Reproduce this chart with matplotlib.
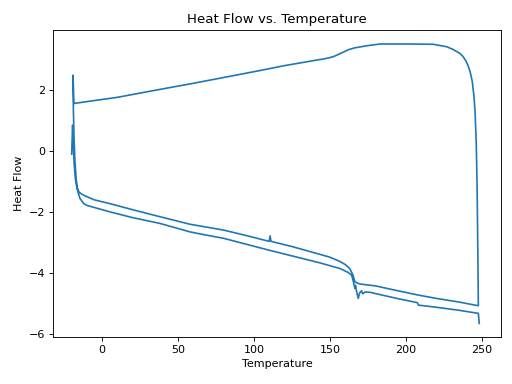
import matplotlib
matplotlib.use("Agg")
import matplotlib.pyplot as plt
import numpy as np

# first heating run
heat1_temp = [-19.9, -19.3, -18.9, -18.3, -17.5, -16.5, -15, -13, -11, -5, 5, 20, 38, 50, 58, 65,
              80, 95, 110, 110.6, 111.2, 125, 143, 150, 156.6, 160, 163, 165, 166.4, 168, 170,
              180, 190, 208, 220, 235, 247.6]
heat1_flow = [-0.10, 0.85, 0.3, -0.4, -0.9, -1.2, -1.35, -1.42, -1.47, -1.6, -1.72, -1.92, -2.15,
              -2.30, -2.40, -2.46, -2.59, -2.77, -2.96, -2.78, -2.96, -3.13, -3.38, -3.48, -3.62,
              -3.72, -3.85, -4.05, -4.28, -4.33, -4.36, -4.42, -4.53, -4.72, -4.83, -4.95, -5.07]

# cooling run
cool_temp = [247.3, 246.8, 246.2, 245.4, 244.6, 243.6, 242.3, 241, 239.5, 237.5, 235.5, 231, 226.8,
             218, 200, 183, 174, 166, 162, 157, 152, 147, 141, 120, 104, 60, 38, 10, -10, -18.5]
cool_flow = [-3.5, -1.2, 0.3, 1.34, 1.85, 2.28, 2.58, 2.78, 2.95, 3.10, 3.20, 3.33, 3.42,
             3.50, 3.51, 3.51, 3.45, 3.38, 3.32, 3.20, 3.09, 3.03, 2.98, 2.80, 2.64, 2.22,
             2.02, 1.76, 1.62, 1.56]

# second heating run
heat2_temp = [-19.0, -18.8, -18.4, -17.8, -17, -16, -14.5, -12, -10, 5, 20, 38, 58, 65, 80, 110,
              143, 156.6, 162, 164.3, 165.5, 166.4, 166.8, 167.5, 168.6, 169.5, 170.8, 171.5, 173,
              176.3, 194, 207.5, 208.2, 220, 235, 247.6, 248.2]
heat2_flow = [2.49, 1.4, 0.5, -0.3, -0.9, -1.3, -1.55, -1.72, -1.78, -1.99, -2.18, -2.37, -2.65,
              -2.72, -2.86, -3.25, -3.66, -3.85, -3.98, -4.07, -4.3, -4.50, -4.40, -4.6, -4.83,
              -4.65, -4.58, -4.68, -4.62, -4.63, -4.83, -4.97, -5.05, -5.12, -5.22, -5.32, -5.65]

temperature = np.array(heat1_temp + cool_temp + heat2_temp)
heat_flow = np.array(heat1_flow + cool_flow + heat2_flow)

fig, ax = plt.subplots(figsize=(6.4, 4.8), dpi=80)
fig.subplots_adjust(left=0.1035, right=0.9785, top=0.922, bottom=0.122)

ax.plot(temperature, heat_flow)
ax.set_xlim(-32.2, 262.5)
ax.set_ylim(-6.10, 3.97)
ax.set_title('Heat Flow vs. Temperature')
ax.set_xlabel('Temperature')
ax.set_ylabel('Heat Flow')

fig.savefig('out.png', dpi=80)
